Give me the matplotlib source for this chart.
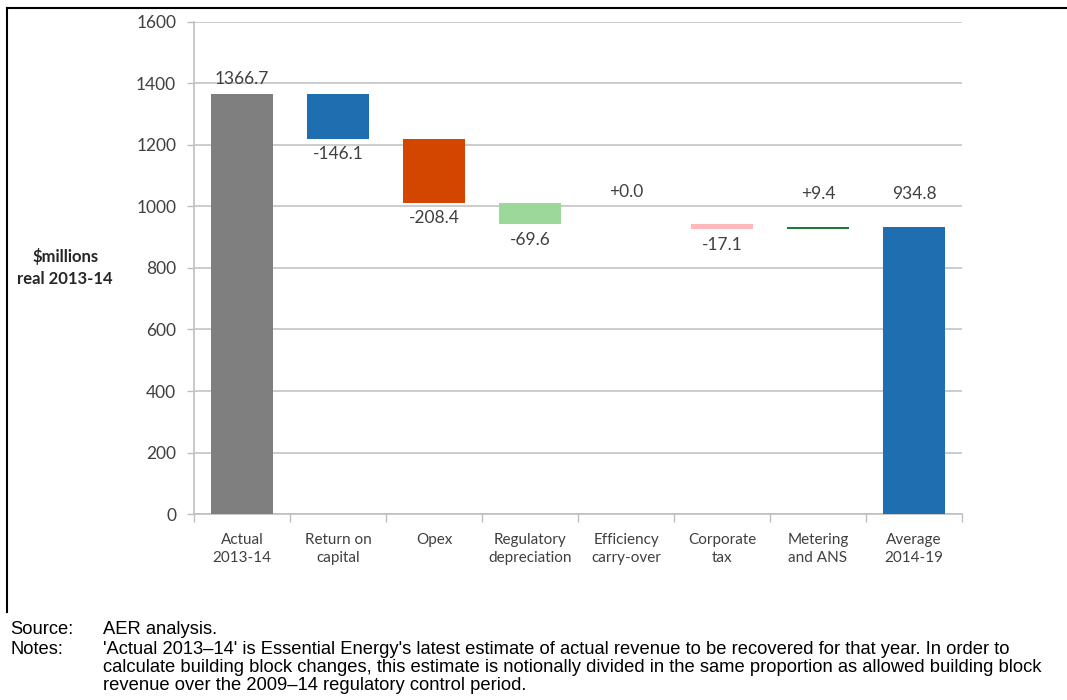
import numpy as np
import matplotlib
matplotlib.use('Agg')
import matplotlib.pyplot as plt
from matplotlib.lines import Line2D

# data
categories = ['Actual\n2013-14', 'Return on\ncapital', 'Opex', 'Regulatory\ndepreciation',
              'Efficiency\ncarry-over', 'Corporate\ntax', 'Metering\nand ANS', 'Average\n2014-19']
changes = [1366.7, -146.1, -208.4, -69.6, 0.0, -17.1, 9.4, 934.8]
is_total = [True, False, False, False, False, False, False, True]
colors = ['#7f7f7f', '#1f6fb0', '#d34600', '#9bd89a', '#9bd89a', '#ffb8bb', '#1f7a35', '#1f6fb0']
labels = ['1366.7', '-146.1', '-208.4', '-69.6', '+0.0', '-17.1', '+9.4', '934.8']

plt.rcParams['font.family'] = ['Lato', 'DejaVu Sans']

fig = plt.figure(figsize=(10.67, 7), dpi=100)
ax = fig.add_axes([0.182, 0.2657, 0.7196, 0.7029])

x = np.arange(len(categories))
bottoms, heights = [], []
running = 0.0
for c, tot in zip(changes, is_total):
    if tot:
        bottoms.append(0.0)
        heights.append(c)
        running = c
    else:
        new = running + c
        bottoms.append(min(running, new))
        heights.append(abs(c))
        running = new

ax.bar(x, heights, bottom=bottoms, width=0.64, color=colors, zorder=3)

# value labels (Excel put the lower ones a bit higher above the bars)
for i, (b, h, c, lab) in enumerate(zip(bottoms, heights, changes, labels)):
    if c < 0:
        ax.text(i, b - 25, lab, ha='center', va='top', fontsize=12.5, color='#404040')
    else:
        off = 22 if i == 0 else 80
        ax.text(i, b + h + off, lab, ha='center', va='bottom', fontsize=12.5, color='#404040')

ax.set_xlim(-0.5, len(categories) - 0.5)
ax.set_ylim(0, 1600)
ax.set_yticks(np.arange(0, 1601, 200))
ax.yaxis.grid(True, color='#c8c8c8', linewidth=1.3, zorder=0)
ax.set_axisbelow(True)
ax.tick_params(axis='y', labelsize=12.5, colors='#404040', length=5, width=1, color='#bfbfbf', pad=8)

ax.set_xticks(x)
ax.set_xticklabels(categories, fontsize=11, color='#404040', linespacing=1.35)
ax.set_xticks(np.arange(-0.5, len(categories)), minor=True)
ax.tick_params(axis='x', which='major', length=0, pad=14)
ax.tick_params(axis='x', which='minor', length=6, color='#bfbfbf', width=1)

for s in ['top', 'right']:
    ax.spines[s].set_visible(False)
ax.spines['left'].set_color('#bfbfbf')
ax.spines['bottom'].set_color('#bfbfbf')
ax.spines['left'].set_linewidth(1.2)
ax.spines['bottom'].set_linewidth(1.2)

fig.text(0.061, 0.618, '$millions\nreal 2013-14', ha='center', va='center', fontsize=12,
         fontweight='bold', color='#262626', linespacing=1.5)

# frame around the chart
fig.add_artist(Line2D([7/1067, 1.0], [1 - 8/700, 1 - 8/700], color='black', lw=1.5))
fig.add_artist(Line2D([7/1067, 7/1067], [1 - 8/700, 1 - 612/700], color='black', lw=1.5))

# source / notes
note_font = ['Liberation Sans', 'DejaVu Sans']
fs = 13.2
fig.text(10/1067, 1 - 630/700, 'Source:', fontsize=fs, family=note_font, va='center')
fig.text(103/1067, 1 - 630/700, 'AER analysis.', fontsize=fs, family=note_font, va='center')
fig.text(10/1067, 1 - 649/700, 'Notes:', fontsize=fs, family=note_font, va='center')
notes = ["'Actual 2013\u201314' is Essential Energy's latest estimate of actual revenue to be recovered for that year. In order to",
         "calculate building block changes, this estimate is notionally divided in the same proportion as allowed building block",
         "revenue over the 2009\u201314 regulatory control period."]
for k, line in enumerate(notes):
    fig.text(103/1067, 1 - (649 + 18.5 * k)/700, line, fontsize=fs, family=note_font, va='center')

fig.savefig('out.png', dpi=100)
